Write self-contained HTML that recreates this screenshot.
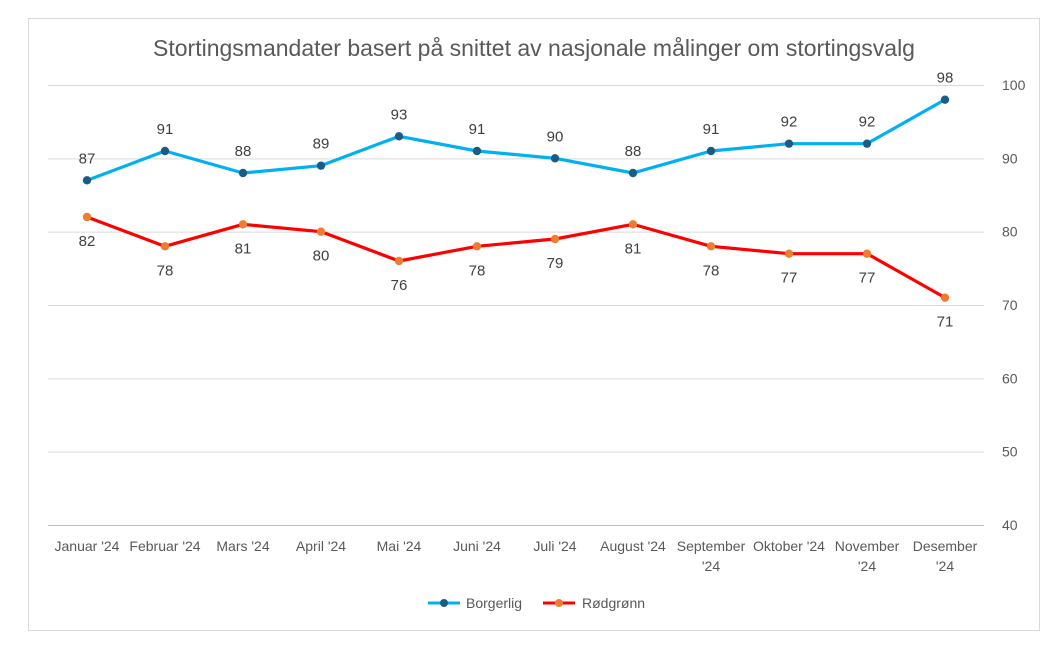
<!DOCTYPE html>
<html><head><meta charset="utf-8">
<style>
html,body{margin:0;padding:0;background:#fff;}
body{width:1052px;height:646px;overflow:hidden;font-family:"Liberation Sans",sans-serif;}
</style></head>
<body>
<svg id="chart" width="1052" height="646" xmlns="http://www.w3.org/2000/svg" font-family="Liberation Sans, sans-serif">
<rect x="28.5" y="18.5" width="1011" height="612" fill="#fff" stroke="#d9d9d9"/>
<text x="534" y="56" text-anchor="middle" font-size="23" fill="#595959">Stortingsmandater basert på snittet av nasjonale målinger om stortingsvalg</text>
<g id="grid"></g><g id="series"></g><g id="labels"></g>
<g>
<g>
<line x1="428" y1="603" x2="460" y2="603" stroke="#00b0f0" stroke-width="3"/>
<circle cx="444" cy="603" r="4" fill="#1a5c86"/>
<text x="466" y="608" font-size="14" fill="#595959">Borgerlig</text></g>
<g>
<line x1="543" y1="603" x2="575" y2="603" stroke="#ff0000" stroke-width="3"/>
<circle cx="559" cy="603" r="4" fill="#ed7d31"/>
<text x="582" y="608" font-size="14" fill="#595959">Rødgrønn</text></g>
</g>
</svg>
<script>
const categories=[["Januar '24"],["Februar '24"],["Mars '24"],["April '24"],["Mai '24"],["Juni '24"],["Juli '24"],["August '24"],["September","'24"],["Oktober '24"],["November","'24"],["Desember","'24"]];
const borgerlig=[87,91,88,89,93,91,90,88,91,92,92,98];
const rodgronn=[82,78,81,80,76,78,79,81,78,77,77,71];
const yTicks=[40,50,60,70,80,90,100];
const NS="http://www.w3.org/2000/svg";
const plotL=48,plotR=984,plotT=85,plotB=525,yMin=40,yMax=100;
const step=(plotR-plotL)/categories.length;
function x(i){return plotL+step*(i+0.5);}
function y(v){return plotB-(v-yMin)/(yMax-yMin)*(plotB-plotT);}
function mk(tag,attrs,parent){const e=document.createElementNS(NS,tag);for(const k in attrs)e.setAttribute(k,attrs[k]);parent.appendChild(e);return e;}
const grid=document.getElementById('grid'),ser=document.getElementById('series'),lab=document.getElementById('labels');
yTicks.forEach(t=>{
  const l=mk('line',{x1:plotL,x2:plotR,y1:y(t)+0.5,y2:y(t)+0.5,stroke:t===yMin?'#bfbfbf':'#d9d9d9','stroke-width':1},grid);
  
  
  const tx=mk('text',{x:1002,y:y(t)+5,'font-size':14,fill:'#595959'},grid);tx.textContent=t;
  
  
});
categories.forEach((c,i)=>{
  const tx=mk('text',{x:x(i),y:551,'text-anchor':'middle','font-size':14,fill:'#595959'},grid);
  c.forEach((s,j)=>{const ts=mk('tspan',{x:x(i),dy:j?20:0},tx);ts.textContent=s;});
  
  
});
function drawSeries(vals,color,mcolor,name,above){
  const p=mk('polyline',{points:vals.map((v,i)=>x(i)+','+y(v)).join(' '),fill:'none',stroke:color,'stroke-width':3.2,'stroke-linejoin':'round'},ser);
  
  
  vals.forEach((v,i)=>{
    const c=mk('circle',{cx:x(i),cy:y(v),r:4.2,fill:mcolor},ser);
    
    
    const t=mk('text',{x:x(i),y:above?y(v)-17:y(v)+29,'text-anchor':'middle','font-size':15,fill:'#404040'},lab);
    t.textContent=v;
    
    
  });
}
drawSeries(borgerlig,'#00b0f0','#1a5c86','borgerlig',true);
drawSeries(rodgronn,'#ff0000','#ed7d31','rodgronn',false);
</script>
</body></html>
